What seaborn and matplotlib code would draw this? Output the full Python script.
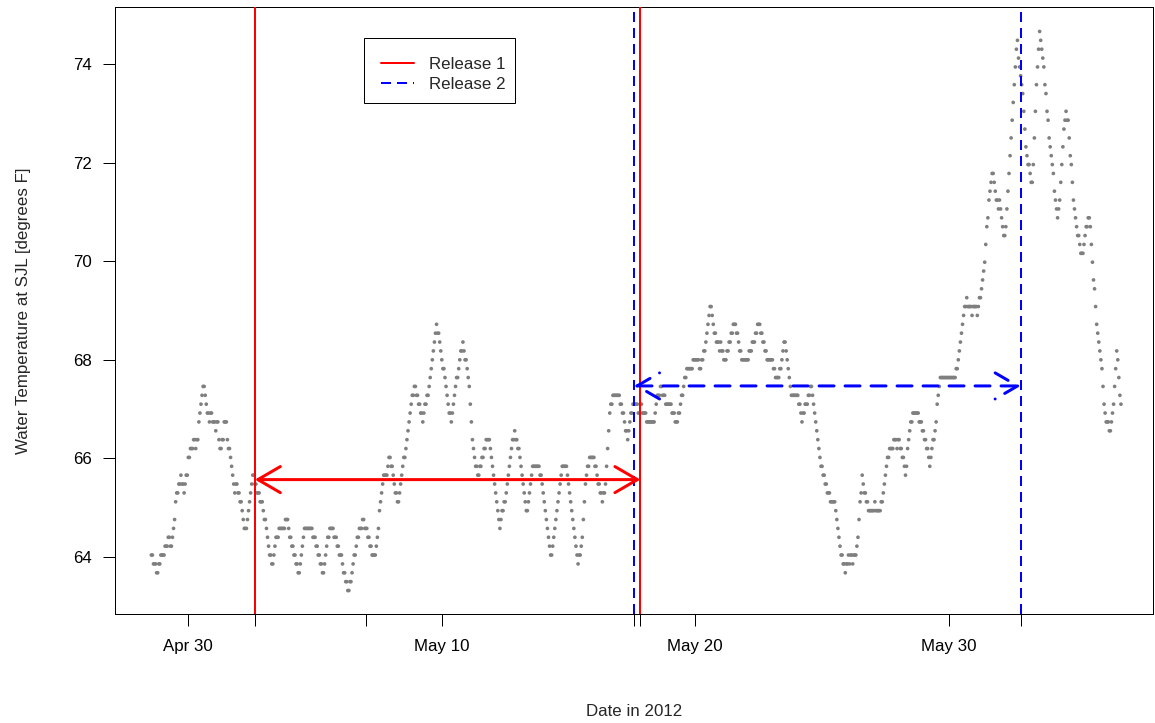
import numpy as np
import pandas as pd
import matplotlib
matplotlib.use("Agg")
import matplotlib.pyplot as plt
import matplotlib.dates as mdates
from matplotlib.lines import Line2D
from matplotlib.patches import Rectangle
import seaborn as sns

# Hourly water temperature at SJL in tenths of a degree Celsius,
# logged from 2012-04-28 13:00 onwards (one row per day).
temp_wk1 = [
    178, 178, 177, 177, 177, 176, 176, 177, 177, 178, 178,                                          # Apr 28
    178, 178, 179, 179, 179, 180, 180, 179, 179, 180, 181, 182, 184, 185, 185, 186, 186, 187, 186, 186, 185, 186, 187, 187,  # Apr 29
    189, 189, 190, 190, 190, 191, 191, 190, 191, 191, 193, 194, 195, 196, 197, 197, 196, 195, 194, 194, 193, 194, 194, 193,  # Apr 30
    193, 193, 192, 193, 193, 191, 190, 190, 191, 191, 193, 193, 193, 191, 190, 190, 189, 188, 187, 186, 185, 186, 186, 185,  # May 1
    185, 184, 184, 183, 182, 181, 181, 181, 182, 183, 184, 185, 186, 187, 187, 186, 186, 185, 185, 185, 184, 184, 184, 183,  # May 2
    182, 182, 181, 180, 179, 178, 178, 177, 177, 178, 179, 180, 180, 180, 181, 181, 181, 181, 181, 181, 182, 182, 182, 181,  # May 3
    180, 180, 179, 179, 178, 178, 177, 177, 176, 176, 177, 178, 179, 180, 181, 181, 181, 181, 181, 181, 181, 181, 180, 180,  # May 4
]
temp_wk2 = [
    180, 179, 179, 178, 178, 177, 177, 176, 176, 177, 178, 179, 180, 180, 181, 181, 181, 181, 180, 180, 180, 179, 179, 178,  # May 5
    178, 178, 177, 176, 176, 175, 175, 174, 174, 175, 175, 176, 177, 178, 178, 179, 180, 180, 181, 181, 181, 182, 182, 181,  # May 6
    181, 181, 180, 180, 179, 179, 178, 178, 178, 178, 179, 180, 181, 183, 184, 185, 186, 187, 187, 187, 187, 188, 189, 189,  # May 7
    188, 188, 187, 186, 185, 185, 184, 184, 185, 186, 187, 188, 189, 189, 190, 191, 192, 193, 194, 195, 196, 196, 197, 197,  # May 8
    196, 196, 195, 195, 194, 194, 193, 194, 195, 195, 196, 196, 197, 198, 199, 200, 201, 202, 203, 204, 203, 203, 202, 201,  # May 9
    200, 199, 199, 198, 197, 196, 195, 194, 194, 193, 194, 195, 196, 197, 198, 198, 199, 200, 201, 201, 202, 201, 200, 200,  # May 10
    199, 198, 197, 195, 193, 191, 190, 189, 188, 188, 187, 187, 188, 188, 189, 189, 190, 190, 191, 191, 191, 191, 190, 189,  # May 11
]
temp_wk3 = [
    188, 187, 186, 185, 184, 183, 182, 181, 182, 183, 183, 184, 184, 185, 186, 187, 188, 189, 190, 191, 191, 192, 191, 191,  # May 12
    190, 190, 189, 188, 187, 186, 185, 184, 183, 183, 184, 185, 186, 187, 188, 188, 188, 188, 188, 188, 188, 187, 187, 186,  # May 13
    185, 184, 183, 182, 181, 180, 179, 178, 178, 179, 180, 181, 182, 183, 184, 185, 186, 187, 188, 188, 188, 188, 188, 187,  # May 14
    186, 185, 184, 183, 182, 181, 180, 179, 178, 177, 178, 178, 179, 180, 182, 184, 186, 187, 188, 188, 189, 189, 189, 189,  # May 15
    189, 188, 188, 187, 186, 186, 185, 185, 184, 185, 185, 186, 188, 190, 192, 194, 195, 195, 196, 196, 196, 196, 196, 196,  # May 16
    196, 195, 195, 194, 194, 193, 192, 192, 191, 192, 193, 194, 194, 195, 195, 195, 195, 195, 194, 194, 195, 195, 194, 194,  # May 17
    194, 194, 193, 193, 193, 193, 193, 193, 193, 193, 194, 195, 196, 196, 196, 197, 197, 196, 196, 196, 195, 195, 195, 195,  # May 18
]
temp_wk4 = [
    195, 195, 194, 194, 194, 193, 193, 193, 194, 194, 195, 196, 196, 197, 198, 198, 199, 199, 199, 199, 199, 199, 200, 200,  # May 19
    200, 200, 200, 200, 199, 199, 200, 200, 201, 201, 202, 203, 204, 205, 206, 206, 205, 204, 203, 203, 202, 202, 202, 201,  # May 20
    202, 201, 201, 200, 200, 200, 201, 201, 202, 202, 203, 203, 204, 204, 204, 203, 203, 202, 201, 201, 200, 200, 200, 200,  # May 21
    200, 200, 200, 201, 201, 201, 202, 202, 202, 203, 203, 204, 204, 204, 203, 203, 202, 202, 201, 201, 200, 200, 200, 200,  # May 22
    200, 200, 199, 199, 198, 198, 198, 198, 199, 199, 200, 201, 202, 202, 201, 200, 199, 198, 197, 196, 196, 196, 196, 196,  # May 23
    196, 196, 195, 195, 194, 193, 194, 194, 195, 195, 195, 196, 196, 197, 197, 196, 195, 194, 193, 192, 191, 190, 189, 188,  # May 24
    188, 187, 187, 186, 186, 185, 185, 185, 184, 184, 184, 184, 184, 183, 182, 181, 180, 179, 178, 178, 177, 177, 176, 177,  # May 25
]
temp_wk5 = [
    177, 178, 177, 178, 178, 177, 178, 178, 178, 179, 180, 182, 184, 185, 187, 186, 185, 185, 184, 184, 183, 183, 183, 183,  # May 26
    183, 183, 184, 183, 183, 183, 183, 183, 184, 184, 185, 186, 187, 188, 189, 189, 190, 190, 190, 190, 191, 191, 191, 190,  # May 27
    191, 191, 190, 190, 189, 189, 188, 187, 188, 190, 191, 192, 193, 193, 194, 194, 194, 194, 194, 194, 193, 193, 193, 192,  # May 28
    192, 191, 191, 190, 190, 189, 188, 189, 190, 191, 191, 192, 193, 195, 196, 197, 198, 198, 198, 198, 198, 198, 198, 198,  # May 29
    198, 198, 198, 198, 198, 198, 198, 199, 199, 200, 201, 202, 203, 204, 205, 206, 206, 207, 206, 206, 206, 206, 205, 206,  # May 30
    206, 206, 206, 205, 206, 207, 207, 208, 209, 210, 211, 213, 215, 216, 218, 219, 220, 221, 221, 220, 219, 218, 218, 217,  # May 31
    218, 217, 216, 215, 214, 214, 215, 217, 219, 221, 223, 225, 227, 229, 231, 233, 235, 236, 234, 233, 232, 231, 230, 228,  # Jun 1
]
temp_wk6 = [
    226, 224, 223, 222, 222, 221, 220, 220, 222, 225, 228, 231, 233, 235, 237, 236, 235, 234, 233, 231, 230, 228, 227, 225,  # Jun 2
    224, 223, 222, 221, 219, 218, 217, 216, 217, 218, 220, 222, 224, 226, 227, 228, 227, 227, 225, 223, 222, 220, 218, 217,  # Jun 3
    216, 215, 214, 214, 213, 212, 212, 212, 213, 214, 215, 215, 216, 216, 215, 213, 211, 209, 208, 206, 204, 203, 202, 201,  # Jun 4
    200, 199, 197, 195, 194, 193, 193, 193, 192, 192, 193, 194, 195, 197, 199, 201, 200, 198, 196, 195,                      # Jun 5
]
series_start = "2012-04-28 13:00"

# Release windows and mean temperature over each window (degrees F)
release_names = ["Release 1", "Release 2"]
release_start = ["2012-05-02 15:00", "2012-05-17 14:00"]
release_end = ["2012-05-17 20:00", "2012-06-01 20:00"]
release_mean_f = [65.57, 67.47]
release_colors = ["#ff0000", "#0000ff"]

date_ticks = ["2012-04-30", "2012-05-10", "2012-05-20", "2012-05-30"]
date_tick_labels = ["Apr 30", "May 10", "May 20", "May 30"]
extra_ticks = ["2012-05-07 00:00"]
temp_ticks = [64, 66, 68, 70, 72, 74]

# ---- assemble the series ----
temp_c = np.array(temp_wk1 + temp_wk2 + temp_wk3 + temp_wk4 + temp_wk5 + temp_wk6) / 10.0
df = pd.DataFrame({
    "time": pd.date_range(series_start, periods=len(temp_c), freq="h"),
    "temp_f": temp_c * 9.0 / 5.0 + 32.0,
})

sns.set_style("white")
plt.rcParams["font.family"] = ["Liberation Sans", "DejaVu Sans"]
plt.rcParams["lines.scale_dashes"] = False

W, H = 1155, 723
fig = plt.figure(figsize=(W / 100, H / 100), dpi=100)
ax = fig.add_axes([115 / W, 1 - 614 / H, (1153 - 115) / W, (614 - 7) / H])

sns.scatterplot(data=df, x="time", y="temp_f", color="#7f7f7f", s=7,
                linewidth=0, edgecolor="none", ax=ax, legend=False, zorder=2)

px = 72.0 / 100.0  # points per pixel
short_dash = (0, (10 * px, 6 * px))
long_dash = (0, (15 * px, 11 * px))

handles = []
for name, t0, t1, mean_f, col in zip(release_names, release_start, release_end,
                                     release_mean_f, release_colors):
    ls_v = "-" if col == release_colors[0] else short_dash
    ls_a = "-" if col == release_colors[0] else long_dash
    for t in (t0, t1):
        ax.axvline(pd.Timestamp(t), color=col, lw=2 * px, linestyle=ls_v, zorder=3)
    ax.annotate("", xy=(mdates.date2num(pd.Timestamp(t1)), mean_f),
                xytext=(mdates.date2num(pd.Timestamp(t0)), mean_f),
                arrowprops=dict(arrowstyle="<->,head_length=16.2,head_width=9.4",
                                mutation_scale=1, color=col, lw=3 * px,
                                linestyle=ls_a, shrinkA=0, shrinkB=0),
                zorder=4)
    handles.append(Line2D([], [], color=col, lw=2 * px, linestyle=ls_v, label=name))

# ---- axes ----
ax.set_xlim(pd.Timestamp("2012-04-27 02:35"), pd.Timestamp("2012-06-07 01:20"))
ax.set_ylim(62.844, 75.156)

xt = [pd.Timestamp(t) for t in date_ticks + release_start + release_end + extra_ticks]
xl = date_tick_labels + [""] * (len(xt) - len(date_tick_labels))
ax.set_xticks(xt)
ax.set_xticklabels(xl)
ax.set_yticks(temp_ticks)
ax.set_yticklabels([str(v) for v in temp_ticks])

fs = 12.2
ax.tick_params(axis="both", which="major", bottom=True, left=True, top=False,
               right=False, direction="out", length=12 * px, width=1 * px,
               color="black", labelsize=fs, labelcolor="black")
ax.tick_params(axis="x", pad=13 * px)
ax.tick_params(axis="y", pad=11 * px)
for sp in ax.spines.values():
    sp.set_visible(True)
    sp.set_color("black")
    sp.set_linewidth(1 * px)

ax.set_xlabel("Date in 2012", fontsize=fs, labelpad=50 * px)
ax.set_ylabel("Water Temperature at SJL [degrees F]", fontsize=fs, labelpad=42 * px)

# legend entries without their own frame; the box is drawn separately
leg = ax.legend(handles=handles, loc="upper left",
                bbox_to_anchor=(366 / W, 1 - 42 / H), bbox_transform=fig.transFigure,
                frameon=False, fontsize=fs, handlelength=1.94,
                handletextpad=0.88, borderpad=0.9, labelspacing=0.26,
                borderaxespad=0)
fig.patches.append(Rectangle((364 / W, 1 - 103 / H), (515 - 364) / W, (103 - 38) / H,
                             transform=fig.transFigure, fill=False,
                             edgecolor="black", linewidth=1 * px, zorder=5))

fig.savefig("out.png", dpi=100)
